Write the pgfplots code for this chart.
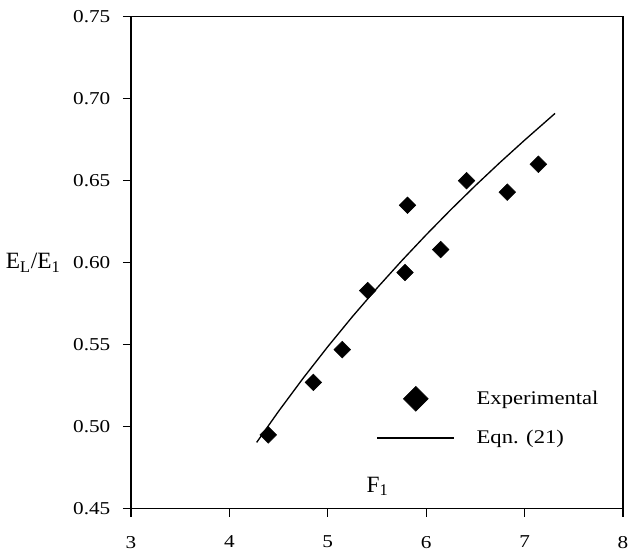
\documentclass[border=0pt]{standalone}
\usepackage{fontspec}
\setmainfont{Liberation Serif}[FakeStretch=1.17]
\newfontfamily\lblfont{Liberation Serif}
\usepackage{pgfplots}
\pgfplotsset{compat=1.18}

\begin{document}
\begin{tikzpicture}[font=\fontsize{13.6pt}{16pt}\selectfont]
\begin{axis}[
    name=ax,
    scale only axis,
    width=369pt, height=369pt,
    xmin=3, xmax=8, ymin=0.45, ymax=0.75,
    xtick={3,4,5,6,7,8},
    ytick={0.45,0.50,0.55,0.60,0.65,0.70,0.75},
    /pgf/number format/assume math mode=true,
    xticklabel={\pgfmathprintnumber[assume math mode=true]{\tick}},
    yticklabel={\pgfmathprintnumber[assume math mode=true, fixed, fixed zerofill, precision=2]{\tick}},
    tick label style={font=\fontsize{13.6pt}{16pt}\selectfont},
    yticklabel style={xshift=-6pt},
    tick align=outside,
    xtick pos=left, ytick pos=left,
    major tick length=6pt,
    axis line style={line width=1pt},
    every tick/.style={black, line width=1pt},
    xticklabel style={yshift=-11pt},
    xlabel={F\textsubscript{1}},
    xlabel style={font=\lblfont\fontsize{17.5pt}{20pt}\selectfont,
        at={(axis description cs:0.501,0.045)}, anchor=center},
    ylabel={E\textsubscript{L}/E\textsubscript{1}},
    ylabel style={font=\lblfont\fontsize{17.5pt}{20pt}\selectfont,
        rotate=-90, at={(axis description cs:-0.134,0.5)}, anchor=east},
    legend style={draw=none, fill=none, inner sep=0pt,
        font=\fontsize{14.5pt}{17pt}\selectfont,
        at={(axis description cs:0.498,0.186)}, anchor=west,
        row sep=12pt,
        /tikz/every odd column/.append style={column sep=14pt}},
    legend cell align=left,
]
\addplot[only marks, mark=square*, mark size=4.4pt,
    mark options={rotate=45, fill=black, draw=black},
    legend image code/.code={\draw[mark size=6.6pt] plot coordinates {(28.9pt,0pt)};}]
coordinates {
    (4.395, 0.495)
    (4.853, 0.527)
    (5.147, 0.547)
    (5.405, 0.583)
    (5.785, 0.594)
    (5.810, 0.635)
    (6.147, 0.608)
    (6.410, 0.650)
    (6.824, 0.643)
    (7.140, 0.660)
};
\addlegendentry{Experimental}
\addplot[black, line width=1pt, no marks,
    legend image code/.code={\draw[line width=1.5pt] (0pt,0pt) -- (57.75pt,0pt);}]
coordinates {
    (4.277, 0.4904)
    (4.50, 0.5094)
    (4.75, 0.5296)
    (5.00, 0.5488)
    (5.25, 0.5671)
    (5.50, 0.5845)
    (5.75, 0.6011)
    (6.00, 0.6170)
    (6.25, 0.6323)
    (6.50, 0.6470)
    (6.75, 0.6611)
    (7.00, 0.6747)
    (7.309, 0.6910)
};
\addlegendentry{Eqn. (21)}
\end{axis}
\pgfresetboundingbox
\path[use as bounding box] ([shift={(-98.25pt,-36.75pt)}]ax.south west) rectangle ([shift={(5.25pt,12.5pt)}]ax.north east);
\end{tikzpicture}
\end{document}
